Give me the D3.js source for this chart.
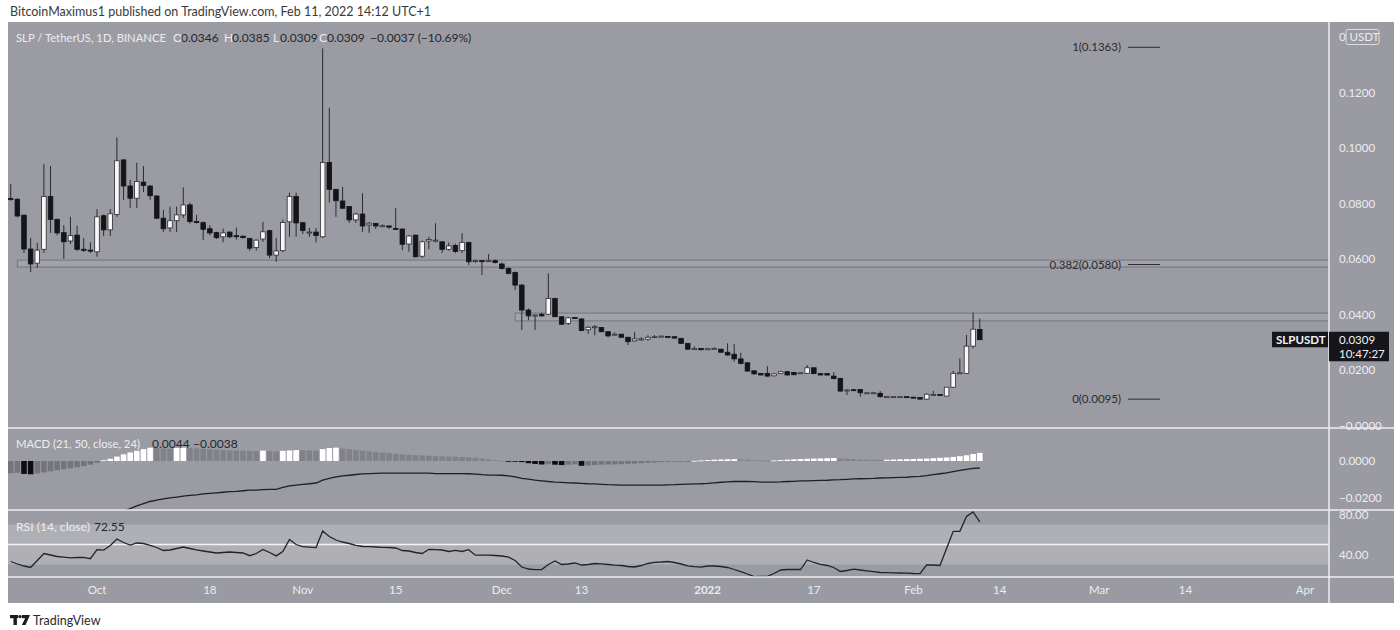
<!DOCTYPE html>
<html><head><meta charset="utf-8">
<script src="https://cdn.jsdelivr.net/npm/d3@7"></script>
<style>body{margin:0;background:#fff;} svg{display:block;font-family:Lato,"Open Sans",sans-serif;}</style>
</head><body><svg id="c" width="1400" height="630"></svg>
<script>
// ---------------- DATA ----------------
const firstDay = "2021-09-18"; // daily candles from here on
const opens = [
 .0818,.0815,.0758,.0636,.0585,.0635,.0825,.0743,.0695,.0665,.0686,.0635,.0632,
 .0626,.0756,.0705,.0761,.0957,.0863,.0819,.0877,.0863,.0827,.0747,.0712,.0738,.0759,.0795,.0735,.0731,.0709,.0695,.0680,.0697,.0684,.0682,.0674,.0641,.0672,.0702,.0614,.0630,.0734,.0825,
 .0731,.0697,.0697,.0680,.0948,.0851,.0809,.0789,.0741,.0762,.0723,.0728,.0720,.0719,.0710,.0708,.0654,.0686,.0610,.0665,.0668,.0662,.0635,.0649,.0630,.0660,.0594,.0594,.0593,.0594,
 .0582,.0566,.0551,.0506,.0416,.0396,.0401,.0401,.0458,.0392,.0368,.0389,.0384,.0345,.0355,.0353,.0338,.0327,.0329,.0318,.0305,.0312,.0311,.0319,.0320,.0321,.0320,.0314,.0296,.0276,.0278,
 .0273,.0278,.0275,.0264,.0257,.0240,.0226,.0197,.0188,.0188,.0179,.0188,.0194,.0191,.0190,.0188,.0208,.0187,.0187,.0178,.0170,.0128,.0129,.0130,.0118,.0118,.0116,.0104,.0104,.0104,.0104,
 .0102,.0101,.0095,.0112,.0112,.0106,.0138,.0188,.0188,.0286,.0346];
const highs = [
 .0870,.0820,.0760,.0676,.0658,.0942,.0935,.0745,.0722,.0752,.0720,.0676,.0660,
 .0780,.0760,.0780,.1038,.0960,.0885,.0947,.0935,.0866,.0830,.0777,.0789,.0789,.0858,.0803,.0759,.0735,.0722,.0698,.0710,.0700,.0713,.0686,.0676,.0670,.0734,.0705,.0676,.0742,.0839,.0839,
 .0733,.0712,.0712,.1359,.1145,.0853,.0860,.0790,.0766,.0837,.0733,.0730,.0725,.0720,.0783,.0710,.0686,.0688,.0666,.0680,.0729,.0664,.0660,.0655,.0693,.0662,.0598,.0596,.0618,.0598,
 .0588,.0570,.0555,.0510,.0422,.0400,.0406,.0548,.0460,.0394,.0392,.0391,.0386,.0358,.0362,.0355,.0340,.0335,.0330,.0319,.0338,.0318,.0325,.0326,.0324,.0322,.0321,.0316,.0297,.0285,.0279,
 .0278,.0282,.0276,.0296,.0294,.0262,.0227,.0198,.0189,.0214,.0188,.0196,.0195,.0192,.0192,.0218,.0209,.0188,.0188,.0192,.0171,.0131,.0131,.0131,.0120,.0121,.0124,.0105,.0105,.0105,.0105,
 .0103,.0102,.0116,.0125,.0113,.0138,.0197,.0242,.0326,.0407,.0385];
const lows = [
 .0810,.0750,.0622,.0553,.0568,.0622,.0694,.0685,.0600,.0654,.0630,.0626,.0622,
 .0608,.0683,.0683,.0752,.0813,.0784,.0784,.0841,.0813,.0745,.0698,.0698,.0698,.0748,.0727,.0728,.0668,.0685,.0672,.0660,.0675,.0670,.0674,.0630,.0630,.0662,.0603,.0590,.0625,.0680,.0680,
 .0690,.0680,.0660,.0676,.0803,.0752,.0780,.0730,.0730,.0698,.0694,.0708,.0715,.0708,.0706,.0632,.0626,.0606,.0604,.0635,.0660,.0622,.0630,.0622,.0622,.0578,.0586,.0542,.0590,.0584,
 .0562,.0545,.0488,.0344,.0380,.0344,.0392,.0398,.0390,.0362,.0362,.0385,.0340,.0330,.0325,.0336,.0318,.0324,.0316,.0290,.0302,.0306,.0305,.0316,.0318,.0317,.0314,.0295,.0273,.0272,.0271,
 .0271,.0275,.0262,.0252,.0230,.0220,.0195,.0184,.0181,.0176,.0177,.0187,.0181,.0181,.0188,.0186,.0185,.0181,.0180,.0166,.0122,.0110,.0126,.0104,.0116,.0116,.0100,.0103,.0103,.0103,.0101,
 .0100,.0095,.0094,.0106,.0108,.0105,.0136,.0186,.0186,.0278,.0309];
const closes = [
 .0815,.0755,.0636,.0582,.0632,.0825,.0743,.0694,.0662,.0684,.0635,.0634,.0630,
 .0752,.0705,.0763,.0954,.0863,.0819,.0879,.0865,.0828,.0747,.0709,.0738,.0759,.0795,.0735,.0732,.0707,.0694,.0677,.0694,.0680,.0683,.0677,.0639,.0668,.0698,.0614,.0629,.0732,.0825,.0730,
 .0703,.0697,.0685,.0948,.0851,.0810,.0783,.0741,.0762,.0719,.0729,.0719,.0720,.0715,.0708,.0653,.0683,.0608,.0662,.0670,.0668,.0635,.0647,.0627,.0660,.0590,.0594,.0593,.0594,.0587,
 .0566,.0548,.0506,.0416,.0395,.0398,.0395,.0458,.0392,.0365,.0388,.0387,.0342,.0354,.0356,.0338,.0323,.0329,.0318,.0302,.0312,.0312,.0318,.0320,.0322,.0319,.0315,.0296,.0275,.0277,.0273,
 .0277,.0278,.0264,.0254,.0240,.0224,.0196,.0186,.0182,.0178,.0186,.0194,.0182,.0183,.0190,.0208,.0187,.0182,.0182,.0169,.0124,.0128,.0127,.0118,.0118,.0118,.0104,.0104,.0104,.0104,.0102,
 .0101,.0095,.0113,.0112,.0110,.0138,.0188,.0190,.0286,.0347,.0309];
const macdHist = [
 -.0066,-.0064,-.0070,-.0072,-.0068,-.0062,-.0056,-.0050,-.0045,-.0040,-.0034,-.0028,-.0020,-.0010,
 .0004,.0012,.0024,.0036,.0046,.0055,.0064,.0072,
 .0070,.0068,.0066, .0070,.0072,
 .0070,.0068,.0066,.0064,.0062,.0060,.0058,.0057,.0056,.0055,.0054,
 .0056, .0054,.0052, .0055,.0057,.0059, .0058,.0057,.0056, .0064,.0070,.0072,
 .0068,.0064,.0060,.0056,.0052,.0048,.0045,.0042,.0039,.0036,.0034,.0032,.0030,.0028,.0026,.0025,.0024,.0023,.0022,.0020,.0017,.0013,.0009,.0005,.0001,
 -.0001,-.0003,-.0006,-.0012,-.0016,-.0019,-.0017,-.0020,-.0022,-.0020,-.0018,-.0026,
 -.0024,-.0022,-.0020,-.0019,-.0018,-.0017,-.0015,-.0014,-.0012,-.0010,-.0008,-.0006,-.0004,
 -.0003,-.0002,-.0001,.0001,
 .0003,.0005,.0007,.0008,.0009,.0010,
 .0008,.0006,.0004,.0003,.0002,
 .0003,.0005,.0007,.0009,.0011,.0012,.0013,.0014,.0015,.0016,
 .0014,.0012,.0010,.0008,.0007,.0006,.0005,
 .0007,.0008,.0009,.0010,.0011,.0012,.0013,.0015,.0017,.0019,.0022,.0026,.0031,.0038,.0044];
const macdLine = [
 null,null,null,null,null,null,null,null,null,null,null,null,null,null,null,null,null,
 -.0270,-.0257,-.0243,-.0230,-.0219,-.0211,-.0205,-.0200,-.0195,-.0190,-.0186,-.0183,-.0178,-.0175,-.0172,-.0169,-.0166,-.0164,-.0161,-.0158,-.0157,-.0155,-.0154,-.0153,
 -.0143,-.0135,-.0130,-.0126,-.0123,-.0119,-.0103,-.0094,-.0086,-.0081,-.0077,-.0073,-.0070,-.0068,-.0067,
 -.0066,-.0066,-.0066,-.0066,-.0066,-.0066,-.0066,-.0066,-.0068,-.0068,-.0068,-.0068,-.0068,
 -.0069,-.0071,-.0074,-.0076,-.0076,-.0077,-.0081,-.0086,-.0094,-.0098,-.0103,-.0107,-.0111,-.0114,-.0116,-.0118,-.0119,-.0121,-.0123,-.0124,-.0126,-.0128,-.0129,
 -.0130,-.0130,-.0130,-.0130,-.0130,-.0130,-.0130,-.0129,-.0128,-.0126,-.0125,-.0124,-.0123,-.0121,-.0118,-.0115,-.0113,-.0111,-.0111,-.0111,-.0112,-.0114,-.0114,-.0114,
 -.0113,-.0111,-.0110,-.0108,-.0107,-.0106,-.0105,-.0104,-.0102,-.0101,-.0099,-.0097,-.0096,-.0095,-.0094,-.0092,-.0091,-.0090,-.0089,-.0088,
 -.0085,-.0083,-.0079,-.0074,-.0069,-.0064,-.0057,-.0051,-.0045,-.0040,-.0038];
const rsiValues = [
 33,30.5,28.5,27,34,41,39.5,38,37.3,36.6,37,37.2,35.8,
 44.8,44.3,49,55.5,52,49.4,51.5,51,49.2,47,44,44.5,46,47.5,46,44.6,43.5,42.5,41.5,42,42.5,42,41.5,38.8,41,45,42,38.6,43,55,50,
 47.8,47.4,46.9,63.5,58,54.5,52.5,51,49.2,48,47.8,47.5,47.2,47,46.5,44,43.5,42,41,45.2,44.8,44.5,43,44.2,43,44.8,39.3,39.3,39.3,39,
 38.5,37.3,34,27.5,25.5,24.8,25,30,33.5,30,30.5,31.5,29.5,30,31,30.6,30,29.3,29,28,27.5,29,31,32.2,32.5,33,32,30.5,28.7,27.8,27.4,
 28.5,28.5,28,27,25,22.8,20.5,17.8,18,18.2,21,24.5,25,25,25,34.5,32,30.2,29,27,23,24,25.3,24.5,23.6,22.8,22,21.8,21.6,21.5,21.4,
 21,20.8,29.7,29.5,29,46,63.2,63.2,78,82.5,72.55];
const priceTicks = [0.12, 0.10, 0.08, 0.06, 0.04, 0.02, 0];
const priceTickLabels = ["0.1200","0.1000","0.0800","0.0600","0.0400","0.0200","\u22120.0000"];
const macdTicks = [0, -0.02];
const macdTickLabels = ["0.0000","\u22120.0200"];
const rsiTicks = [80, 40];
const rsiTickLabels = ["80.00","40.00"];
const timeTickDates = ["2021-10-01","2021-10-18","2021-11-01","2021-11-15","2021-12-01","2021-12-13","2022-01-01","2022-01-17","2022-02-01","2022-02-14","2022-03-01","2022-03-14","2022-04-01"];
const timeTickLabels = ["Oct","18","Nov","15","Dec","13","2022","17","Feb","14","Mar","14","Apr"];
const fibRatios = ["1","0.382","0"];
const fibPrices = [0.1363, 0.0580, 0.0095];
const zoneStarts = ["2021-09-19","2021-12-03"];
const zoneLows = [0.0571, 0.0377];
const zoneHighs = [0.0596, 0.0405];

// ---------------- LAYOUT ----------------
const L = 8, R = 1394, T = 22, B = 603, PR = 1329;
const mainB = 428, macdB = 510, rsiB = 577;
const BG = "#9b9ca3", AXBG = "#9a9ba2", LIGHT = "#ececef", DARK = "#26262a";

const svg = d3.select("#c");
const parse = d3.utcParse("%Y-%m-%d");
const d0 = parse(firstDay);
const dates = closes.map((_, i) => d3.utcDay.offset(d0, i));

const x = d3.scaleUtc().domain([parse("2021-10-01"), parse("2022-04-01")]).range([97, 1305]);
const yP = d3.scaleLinear().domain([0, 0.12]).range([425.5, 92.5]);
const yM = d3.scaleLinear().domain([-0.0265, 0.01784]).range([macdB, mainB]);
const yR = d3.scaleLinear().domain([40, 80]).range([554.5, 514.5]);

// header
svg.append("text").attr("x", 10).attr("y", 16).attr("font-size", 12.5).attr("fill", "#3a3a3a")
  .text("BitcoinMaximus1 published on TradingView.com, Feb 11, 2022 14:12 UTC+1");

// backgrounds
svg.append("rect").attr("x", L).attr("y", T).attr("width", R - L).attr("height", B - T).attr("fill", BG);
svg.append("rect").attr("x", PR).attr("y", T).attr("width", R - PR).attr("height", B - T).attr("fill", AXBG);
svg.append("rect").attr("x", L).attr("y", rsiB).attr("width", R - L).attr("height", B - rsiB).attr("fill", AXBG);

const defs = svg.append("defs");
function clip(id, y0, y1) {
  defs.append("clipPath").attr("id", id).append("rect").attr("x", L).attr("y", y0).attr("width", PR - L).attr("height", y1 - y0);
}
clip("cMain", T, mainB); clip("cMacd", mainB, macdB); clip("cRsi", macdB, rsiB);

// RSI band
const gR = svg.append("g").attr("clip-path", "url(#cRsi)");
gR.append("rect").attr("x", L).attr("width", PR - L).attr("y", yR(70)).attr("height", yR(30) - yR(70)).attr("fill", "#afb0b6");
gR.append("line").attr("x1", L).attr("x2", PR).attr("y1", yR(50)).attr("y2", yR(50)).attr("stroke", "#f4f4f6").attr("stroke-width", 1.5);

// Main pane
const gM = svg.append("g").attr("clip-path", "url(#cMain)");
zoneStarts.forEach((s, i) => {
  gM.append("rect").attr("x", x(parse(s))).attr("width", PR - x(parse(s)))
    .attr("y", yP(zoneHighs[i])).attr("height", yP(zoneLows[i]) - yP(zoneHighs[i]))
    .attr("fill", "rgba(255,255,255,0.08)").attr("stroke", "#74757c").attr("stroke-width", 1);
});
fibPrices.forEach((p, i) => {
  const yy = yP(p);
  gM.append("line").attr("x1", 1128).attr("x2", 1160).attr("y1", yy).attr("y2", yy).attr("stroke", "#2b2b2f").attr("stroke-width", 1);
  gM.append("text").attr("x", 1121).attr("y", yy + 4).attr("text-anchor", "end").attr("font-size", 11.5).attr("fill", "#2b2b2f")
    .text(fibRatios[i] + "(" + p.toFixed(4) + ")");
});
const bw = 4.6;
const cg = gM.selectAll("g.c").data(dates).join("g");
cg.append("line").attr("x1", (d) => x(d)).attr("x2", (d) => x(d))
  .attr("y1", (d, i) => yP(highs[i])).attr("y2", (d, i) => yP(lows[i]))
  .attr("stroke", "#2a2b30").attr("stroke-width", 1);
cg.append("rect").attr("x", (d) => x(d) - bw / 2).attr("width", bw)
  .attr("y", (d, i) => yP(Math.max(opens[i], closes[i])))
  .attr("height", (d, i) => Math.max(1, Math.abs(yP(opens[i]) - yP(closes[i]))))
  .attr("fill", (d, i) => closes[i] >= opens[i] ? "#f7f7f7" : "#141519")
  .attr("stroke", (d, i) => closes[i] >= opens[i] ? "#2a2b30" : "#141519").attr("stroke-width", 0.8);

// MACD pane
const gMa = svg.append("g").attr("clip-path", "url(#cMacd)");
const hw = 5.6;
gMa.selectAll("rect.h").data(dates).join("rect")
  .attr("x", (d) => x(d) - hw / 2).attr("width", hw)
  .attr("y", (d, i) => Math.min(yM(0), yM(macdHist[i])))
  .attr("height", (d, i) => Math.max(0.8, Math.abs(yM(macdHist[i]) - yM(0))))
  .attr("fill", (d, i) => {
    const v = macdHist[i], p = i > 0 ? macdHist[i - 1] : null;
    if (v >= 0) return (p === null || v >= p) ? "#ffffff" : "#818289";
    return (p !== null && v < p) ? "#0e0e11" : "#74757c";
  });
gMa.append("path").datum(dates.map((d, i) => [d, macdLine[i]]))
  .attr("fill", "none").attr("stroke", "#1e1f23").attr("stroke-width", 1.3)
  .attr("d", d3.line().defined((d) => d[1] !== null).x((d) => x(d[0])).y((d) => yM(d[1])));

// RSI line
gR.append("path").datum(dates.map((d, i) => [d, rsiValues[i]]))
  .attr("fill", "none").attr("stroke", "#232428").attr("stroke-width", 1.3)
  .attr("d", d3.line().x((d) => x(d[0])).y((d) => yR(d[1])));

// separators
const sep = svg.append("g").attr("stroke", "#eeeef0").attr("stroke-width", 1.5);
[mainB, macdB, rsiB].forEach((yy) => sep.append("line").attr("x1", L).attr("x2", R).attr("y1", yy).attr("y2", yy));
sep.append("line").attr("x1", PR).attr("x2", PR).attr("y1", T).attr("y2", B);

// top currency box (drawn before its text)
svg.append("rect").attr("x", 1346).attr("y", 29.5).attr("width", 33).attr("height", 15).attr("rx", 2)
  .attr("fill", AXBG).attr("stroke", "#dcdce0").attr("stroke-width", 1);

// axis labels
const ax = svg.append("g").attr("font-size", 11.5).attr("fill", LIGHT);
priceTicks.forEach((v, i) => ax.append("text").attr("x", 1339).attr("y", yP(v) + 4).text(priceTickLabels[i]));
macdTicks.forEach((v, i) => ax.append("text").attr("x", 1339).attr("y", yM(v) + 4).text(macdTickLabels[i]));
rsiTicks.forEach((v, i) => ax.append("text").attr("x", 1339).attr("y", yR(v) + 4).text(rsiTickLabels[i]));
timeTickDates.forEach((s, i) => ax.append("text").attr("x", x(parse(s))).attr("y", 594).attr("text-anchor", "middle")
  .attr("font-weight", timeTickLabels[i] === "2022" ? "bold" : "normal").text(timeTickLabels[i]));
ax.append("text").attr("x", 1339).attr("y", 41).text("0");
ax.append("text").attr("x", 1349.5).attr("y", 41).text("USDT");

// last price tag
const last = closes.length - 1, ly = yP(closes[last]);
svg.append("rect").attr("x", 1272).attr("y", ly - 8).attr("width", 56).attr("height", 15.5).attr("fill", "#15161b");
svg.append("rect").attr("x", 1329).attr("y", ly - 8).attr("width", 60).attr("height", 29.5).attr("fill", "#15161b");
svg.append("text").attr("x", 1276).attr("y", ly + 4).attr("font-size", 11.5).attr("font-weight", "bold").attr("fill", "#f2f2f4").text("SLPUSDT");
svg.append("text").attr("x", 1339).attr("y", ly + 4).attr("font-size", 11.5).attr("fill", "#f2f2f4").text(closes[last].toFixed(4));
svg.append("text").attr("x", 1339).attr("y", ly + 18).attr("font-size", 11.5).attr("fill", "#f2f2f4").text("10:47:27");

// legends (each part placed at its own x, width fitted to the reference)
function legend(yy, parts) {
  const g = svg.append("g").attr("font-size", 12);
  parts.forEach(([px, s, c, w]) => {
    const t = g.append("text").attr("x", px).attr("y", yy).attr("fill", c).text(s);
    if (w) t.attr("textLength", w).attr("lengthAdjust", "spacingAndGlyphs");
  });
}
legend(42, [
  [16, "SLP / TetherUS, 1D, BINANCE", LIGHT, 150],
  [173, "O", LIGHT], [181, opens[last].toFixed(4), DARK],
  [224, "H", LIGHT], [232, highs[last].toFixed(4), DARK],
  [273, "L", LIGHT], [280, lows[last].toFixed(4), DARK],
  [319, "C", LIGHT], [327, closes[last].toFixed(4), DARK],
  [370, "\u22120.0037 (\u221210.69%)", DARK]]);
legend(448, [[16, "MACD (21, 50, close, 24)", LIGHT, 124], [152, macdHist[last].toFixed(4), DARK],
  [193, "\u2212" + Math.abs(macdLine[last]).toFixed(4), DARK]]);
legend(531, [[16, "RSI (14, close)", LIGHT, 74], [94, rsiValues[last].toFixed(2), DARK]]);

// TradingView logo
const lg = svg.append("g").attr("fill", "#1c1c20");
lg.append("rect").attr("x", 10).attr("y", 615).attr("width", 8).attr("height", 3.2);
lg.append("rect").attr("x", 13.5).attr("y", 615).attr("width", 3.4).attr("height", 10);
lg.append("circle").attr("cx", 20).attr("cy", 616.6).attr("r", 1.7);
lg.append("path").attr("d", "M22,615 L30,615 L25.5,625 L21.8,625 L25.2,618.2 L22,618.2 Z");
svg.append("text").attr("x", 33).attr("y", 625).attr("font-size", 12.5).attr("fill", "#2a2a2e").text("TradingView");
</script></body></html>
